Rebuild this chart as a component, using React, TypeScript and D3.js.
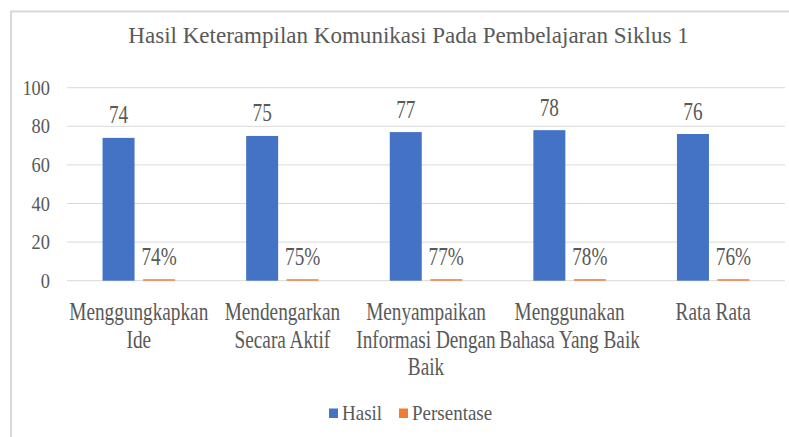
import React from "react";
import * as d3 from "d3";

const categories = [
  "Menggungkapkan Ide",
  "Mendengarkan Secara Aktif",
  "Menyampaikan Informasi Dengan Baik",
  "Menggunakan Bahasa Yang Baik",
  "Rata Rata",
];
// how the axis labels wrap in the picture
const categoryLines = [
  ["Menggungkapkan", "Ide"],
  ["Mendengarkan", "Secara Aktif"],
  ["Menyampaikan", "Informasi Dengan", "Baik"],
  ["Menggunakan", "Bahasa Yang Baik"],
  ["Rata Rata"],
];
const hasil = [74, 75, 77, 78, 76];
const persentase = [0.74, 0.75, 0.77, 0.78, 0.76];
const yTicks = [0, 20, 40, 60, 80, 100];
const seriesNames = ["Hasil", "Persentase"];
const colors = ["#4472C4", "#ED7D31"];

const W = 789;
const H = 437;
const FONT = "Liberation Serif, Times New Roman, DejaVu Serif, serif";
const TEXT = "#595959";

// squeezed text, like in the picture
const Label = ({ x, y, size, sx, anchor = "middle", children }: any) => (
  <text
    transform={`translate(${x},${y}) scale(${sx},1)`}
    textAnchor={anchor}
    style={{ fontFamily: FONT, fontSize: size, fill: TEXT }}
  >
    {children}
  </text>
);

export default function App() {
  const margin = { top: 87.7, right: 4, bottom: 156.3, left: 67 };

  const x0 = d3
    .scaleBand<string>()
    .domain(categories)
    .range([margin.left, W - margin.right])
    .paddingInner(0)
    .paddingOuter(0);

  const x1 = d3
    .scaleBand<string>()
    .domain(seriesNames)
    .range([0, x0.bandwidth()])
    .paddingInner(0.21)
    .paddingOuter(0.878);

  const y = d3
    .scaleLinear()
    .domain([0, 100])
    .range([H - margin.bottom, margin.top]);

  const series = [hasil, persentase];
  const fmt = [(v: number) => `${v}`, (v: number) => `${Math.round(v * 100)}%`];

  return (
    <div style={{ position: "fixed", left: 0, top: 0 }}>
      <svg width={W} height={H} style={{ display: "block", background: "#fff" }}>
        <rect x={11} y={11.5} width={900} height={600} fill="none" stroke="#d9d9d9" strokeWidth={2} />

        <Label x={408.5} y={43} size={24} sx={0.96}>
          Hasil Keterampilan Komunikasi Pada Pembelajaran Siklus 1
        </Label>

        {yTicks.map((t) => (
          <g key={t}>
            <line
              x1={margin.left}
              x2={W - margin.right}
              y1={y(t)}
              y2={y(t)}
              stroke="#d9d9d9"
              strokeWidth={1}
            />
            <Label x={50} y={y(t) + 7} size={20} sx={0.92} anchor="end">
              {t}
            </Label>
          </g>
        ))}

        {categories.map((c, i) => (
          <g key={c}>
            {series.map((vals, s) => {
              const bx = (x0(c) as number) + (x1(seriesNames[s]) as number);
              const top = y(vals[i]);
              return (
                <g key={s}>
                  <rect
                    x={bx}
                    y={top}
                    width={x1.bandwidth()}
                    height={y(0) - top}
                    fill={colors[s]}
                  />
                  <Label x={bx + x1.bandwidth() / 2} y={top - 14.5} size={25} sx={0.77}>
                    {fmt[s](vals[i])}
                  </Label>
                </g>
              );
            })}
            {categoryLines[i].map((ln, k) => (
              <Label
                key={k}
                x={(x0(c) as number) + x0.bandwidth() / 2}
                y={320 + k * 27.5}
                size={25}
                sx={0.77}
              >
                {ln}
              </Label>
            ))}
          </g>
        ))}

        {/* legend */}
        <rect x={329} y={408.5} width={9} height={9.5} fill={colors[0]} />
        <Label x={342} y={420} size={20} sx={0.95} anchor="start">
          {seriesNames[0]}
        </Label>
        <rect x={399} y={408.5} width={9} height={9.5} fill={colors[1]} />
        <Label x={412} y={420} size={20} sx={0.95} anchor="start">
          {seriesNames[1]}
        </Label>
      </svg>
    </div>
  );
}
